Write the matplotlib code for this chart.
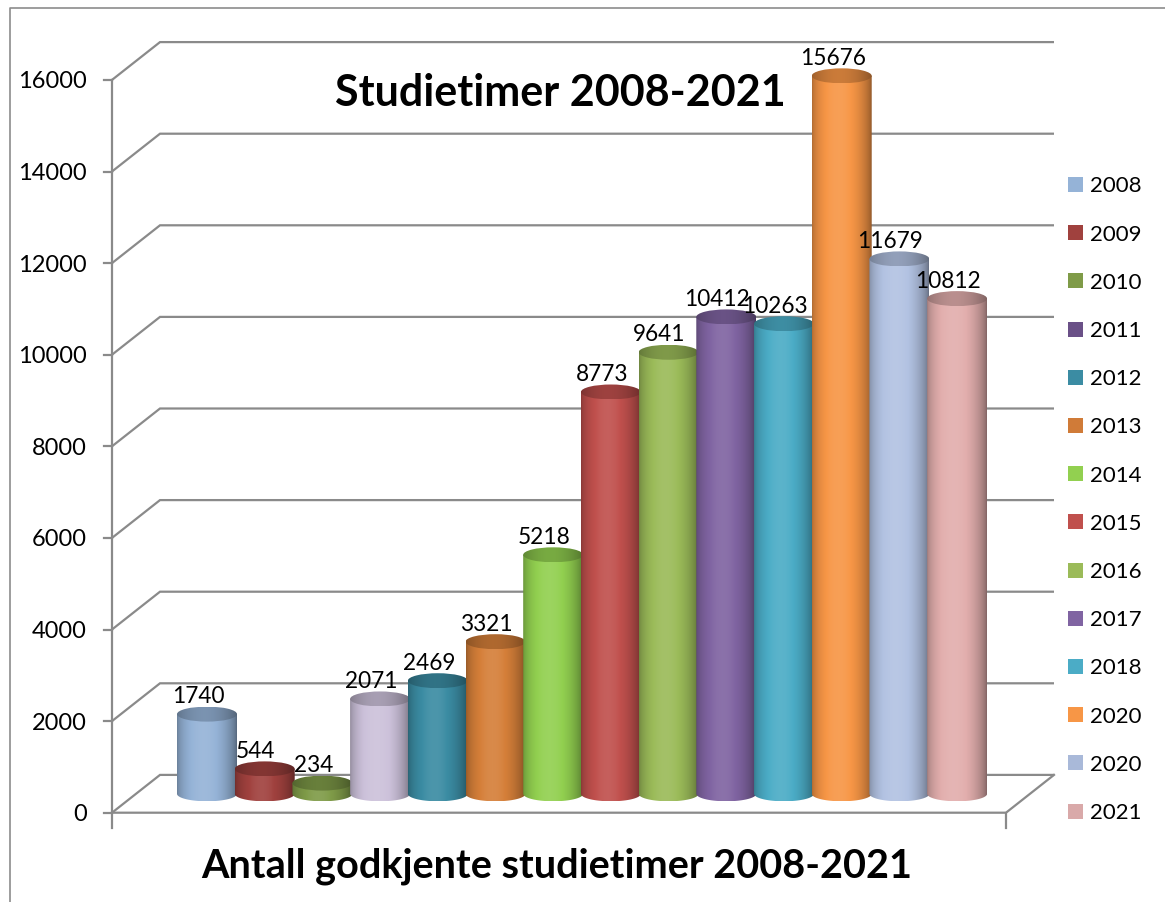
import numpy as np
import matplotlib
matplotlib.use('Agg')
import matplotlib.pyplot as plt
from matplotlib.patches import Ellipse, PathPatch, Rectangle
from matplotlib.path import Path
from matplotlib.lines import Line2D
import matplotlib.colors as mcolors

plt.rcParams['font.family'] = ['Lato', 'DejaVu Sans']

# ---------------- data ----------------
years = ['2008', '2009', '2010', '2011', '2012', '2013', '2014',
         '2015', '2016', '2017', '2018', '2020', '2020', '2021']
hours = [1740, 544, 234, 2071, 2469, 3321, 5218,
         8773, 9641, 10412, 10263, 15676, 11679, 10812]
bar_colors = ['#95B3D7', '#A0413E', '#7F9B48', '#CCC1DA', '#3B8CA3', '#D57F39', '#92D050',
              '#C0504D', '#9BBB59', '#8064A2', '#4BACC6', '#F79646', '#B2C2E2', '#E2AEAD']
legend_colors = ['#95B3D7', '#A0413E', '#7F9B48', '#6A5087', '#3B8CA3', '#D07B38', '#92D050',
                 '#C0504D', '#9BBB59', '#8064A2', '#4BACC6', '#F79646', '#A9B9D9', '#D9A9A9']
y_ticks = [0, 2000, 4000, 6000, 8000, 10000, 12000, 14000, 16000]
title = 'Studietimer 2008-2021'
xlabel = 'Antall godkjente studietimer 2008-2021'

# ---------------- layout ----------------
W, H = 1165, 902
fig = plt.figure(figsize=(W / 100, H / 100), dpi=100)
ax = fig.add_axes([0, 0, 1, 1])
ax.set_axis_off()

X0, XS = 207.0, 57.7     # pixel of first category centre, pixels per category
Y0, YS = 793.8, 0.0458   # pixel of value 0 (mid depth), pixels per unit


def px2x(p):
    return (p - X0) / XS


def px2y(p):
    return (Y0 - p) / YS


DX = 24.0 / XS           # half depth offset (x)
DY = 18.9 / YS           # half depth offset (y)
FL = px2x(112)           # front-left x of plot floor
FR = px2x(1006)          # front-right x of plot floor
GC = '#8A8A8A'
GLW = 1.6

# walls / gridlines
for v in y_ticks:
    ax.plot([FL, FL + 2 * DX, FR + 2 * DX], [v - DY, v + DY, v + DY],
            color=GC, lw=GLW, zorder=1, solid_joinstyle='miter', solid_capstyle='butt')
    ax.plot([px2x(104), FL], [v - DY, v - DY], color=GC, lw=GLW, zorder=1)
    ax.text(px2x(87), v - DY, f'{v}', ha='right', va='center_baseline', fontsize=17, color='black')
ax.plot([FL, FR, FR + 2 * DX], [-DY, -DY, DY], color=GC, lw=GLW, zorder=1,
        solid_joinstyle='miter')
ax.plot([FL, FL], [px2y(828), y_ticks[-1] - DY], color=GC, lw=GLW, zorder=1)
ax.plot([FR, FR], [-DY, px2y(828)], color=GC, lw=GLW, zorder=1)


def profile(n, kind='body'):
    t = np.linspace(0, 1, n)
    if kind == 'body':
        return 0.70 + 0.42 * np.sin(np.pi * t) ** 0.6 - 0.14 * t
    return 0.64 + 0.22 * np.sin(np.pi * t) ** 0.8 - 0.08 * t


def shade(color, kind='body', n=200):
    base = np.array(mcolors.to_rgb(color))
    f = profile(n, kind)[:, None]
    dark = base[None, :] * np.minimum(f, 1.0)
    light = base[None, :] + (1 - base[None, :]) * np.clip(f - 1.0, 0, None) * 1.6
    out = np.where(f > 1.0, light, dark)
    return np.clip(out, 0, 1)[None, :, :]


half = 30.0 / XS
eh = 7.5 / YS
theta = np.linspace(np.pi, 2 * np.pi, 80)
for i, (v, c) in enumerate(zip(hours, bar_colors)):
    z = 3 + i
    x0, x1 = i - half, i + half
    arc = np.column_stack([i + half * np.cos(theta), eh * np.sin(theta)])
    verts = np.vstack([[x0, v], arc, [x1, v], [x0, v]])
    codes = [Path.MOVETO] + [Path.LINETO] * (len(verts) - 2) + [Path.CLOSEPOLY]
    body = PathPatch(Path(verts, codes), transform=ax.transData,
                     facecolor='none', edgecolor='none')
    ax.add_patch(body)
    im = ax.imshow(shade(c), extent=[x0, x1, -eh, v], aspect='auto',
                   interpolation='bilinear', zorder=z)
    im.set_clip_path(body)
    top = Ellipse((i, v), 2 * half, 2 * eh, transform=ax.transData,
                  facecolor='none', edgecolor='none')
    ax.add_patch(top)
    im2 = ax.imshow(shade(c, 'top'), extent=[x0, x1, v - eh, v + eh], aspect='auto',
                    interpolation='bilinear', zorder=z + 0.5)
    im2.set_clip_path(top)
    ax.text(i - 9 / XS, v + 11.0 / YS, f'{v}', ha='center', va='baseline',
            fontsize=16.3, color='black', zorder=50)

ax.set_xlim(px2x(0), px2x(W))
ax.set_ylim(px2y(H), px2y(0))

# titles
fig.text(560 / W, 1 - 93 / H, title, ha='center', va='center',
         fontsize=31, fontweight='bold', color='black')
fig.text(557 / W, 1 - 866 / H, xlabel, ha='center', va='center',
         fontsize=28.5, fontweight='bold', color='black')

# legend
for k, (lab, lc) in enumerate(zip(years, legend_colors)):
    yc = 184.5 + 48.2 * k
    fig.add_artist(Rectangle((1068 / W, 1 - (yc + 7.5) / H), 15 / W, 15 / H,
                             transform=fig.transFigure, facecolor=lc, edgecolor='none'))
    fig.text(1090 / W, 1 - yc / H, lab, ha='left', va='center_baseline',
             fontsize=16, color='black')

# outer frame
fig.add_artist(Line2D([10 / W, 10 / W, 1.0], [0.0, 1 - 8 / H, 1 - 8 / H],
                      transform=fig.transFigure, color='#8C8C8C', lw=1.2))

fig.savefig('out.png', dpi=100)
